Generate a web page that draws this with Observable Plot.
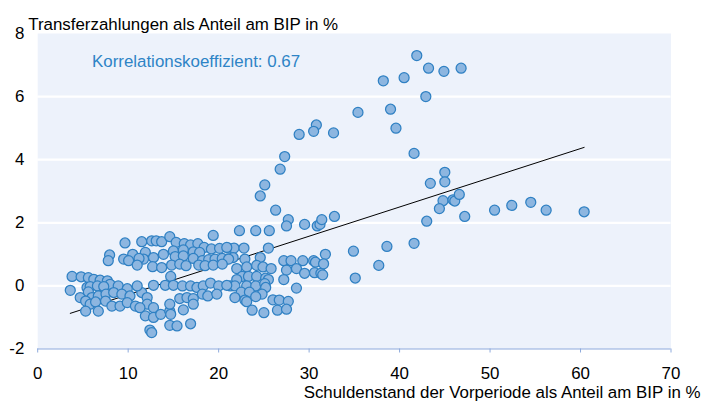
<!DOCTYPE html>
<html>
<head>
<meta charset="utf-8">
<script src="https://cdn.jsdelivr.net/npm/d3@7"></script>
<script src="https://cdn.jsdelivr.net/npm/@observablehq/plot@0.6"></script>
<style>
  html, body { margin: 0; padding: 0; background: #ffffff; }
  #chart { width: 702px; height: 408px; overflow: hidden; }
</style>
</head>
<body>
<div id="chart"></div>
<script>
// Debt in the previous period (% of GDP)
const debt = [
  41.9, 43.2, 44.9, 46.8, 40.5, 38.2, 42.9, 35.4, 39.0, 39.6, 41.6, 45.0, 43.4, 45.0, 44.8, 45.9, 46.1, 46.6, 44.4, 43.0,
  47.2, 50.5, 52.4, 54.5, 56.2, 60.4, 34.9, 38.6, 41.6, 37.7, 35.1,
  30.8, 28.9, 30.5, 32.7, 27.3, 26.8, 25.1, 24.6, 26.3, 27.7, 27.5, 29.5, 30.9, 31.2, 31.4, 32.8, 22.3, 24.1, 25.6,
  25.5, 21.1, 21.7, 22.8, 20.9, 21.6, 22.9, 24.6, 27.2, 28.0, 29.3, 30.5, 30.7, 31.8, 31.6,
  22.0, 23.1, 24.2, 24.9, 25.8, 27.5, 28.6, 29.5, 30.6, 31.3, 31.5, 22.6, 23.3, 24.2, 25.2, 25.5, 27.2, 22.0,
  21.3, 21.8, 23.1, 24.1, 25.1, 25.2, 28.6, 22.5, 23.4, 24.8, 21.8, 22.9, 24.1, 23.1, 26.0, 26.7, 27.7,
  23.7, 25.0, 26.5, 27.5,
  19.4, 11.5, 12.6, 13.1, 13.7, 14.6, 15.3, 16.2, 16.9, 17.7, 18.4, 19.2, 20.1, 20.9,
  11.9, 12.8, 13.9, 15.0, 15.2, 16.1, 16.1, 17.2, 17.9, 17.2, 18.2, 18.9, 19.6, 20.4, 21.1,
  11.7, 12.7, 13.7, 14.8, 15.7, 16.4, 17.8, 18.5, 19.4, 20.4, 14.7,
  12.8, 14.1, 15.0, 16.0, 16.9, 17.6, 18.3, 19.1, 20.0, 20.9, 18.2, 18.8, 19.8,
  11.5, 12.1, 12.1, 12.8, 11.9, 12.8, 13.6, 14.6, 15.7, 16.5, 17.2, 17.2, 14.6, 14.7, 16.1,
  14.6, 15.4, 16.9, 12.4, 12.6,
  9.65, 7.95, 7.8, 9.5, 10.5, 11.2, 10.05, 11.0,
  3.8, 4.8, 5.6, 6.2, 6.9, 7.7, 8.0, 3.6, 5.45, 5.8, 6.6, 7.3, 8.9, 9.9, 11.0,
  4.7, 5.6, 6.0, 6.7, 7.55, 8.4, 9.3, 10.2, 5.3, 5.8, 6.4, 7.5, 8.2, 9.1, 9.9, 10.8, 11.3,
  5.3, 6.7
];
// Transfer payments (% of GDP)
const transfers = [
  7.3, 6.9, 6.8, 6.9, 6.6, 6.5, 6.0, 5.5, 5.6, 5.0, 4.2, 3.6, 3.25, 3.3, 2.7, 2.73, 2.69, 2.9, 2.45, 2.05,
  2.2, 2.4, 2.55, 2.65, 2.4, 2.35, 1.1, 1.25, 1.35, 0.65, 0.25,
  5.1, 4.8, 4.9, 4.85, 4.1, 3.7, 3.2, 2.85, 2.4, 2.1, 1.9, 1.95, 1.9, 1.95, 2.1, 2.2, 1.75, 1.75, 1.75,
  1.2, 1.2, 1.2, 1.2, 0.85, 0.9, 0.85, 0.9, 0.8, 0.8, 0.8, 0.8, 0.75, 1.0, 0.7,
  0.55, 0.6, 0.65, 0.6, 0.55, 0.5, 0.55, 0.4, 0.42, 0.4, 0.35, 0.3, 0.3, 0.3, 0.25, 0.2, 0.2, 0.2,
  0.0, 0.0, 0.0, 0.0, 0.07, -0.05, -0.07, -0.2, -0.2, -0.26, -0.37, -0.45, -0.34, -0.5, -0.44, -0.45, -0.49,
  -0.77, -0.85, -0.77, -0.74,
  1.6, 1.4, 1.43, 1.43, 1.4, 1.56, 1.38, 1.34, 1.3, 1.34, 1.22, 1.17, 1.19, 1.22,
  1.06, 0.9, 1.0, 1.11, 0.93, 1.14, 0.95, 1.08, 1.06, 0.87, 0.8, 0.83, 0.85, 0.87, 0.85,
  0.85, 0.61, 0.58, 0.66, 0.69, 0.64, 0.66, 0.64, 0.66, 0.69, 0.3,
  0.02, 0.02, 0.02, 0.0, 0.0, -0.05, 0.0, 0.09, 0.0, 0.02, -0.26, -0.32, -0.26,
  -0.21, -0.37, -0.58, -0.69, -0.95, -1.0, -0.9, -0.8, -0.4, -0.37, -0.4, -0.58, -0.58, -0.9, -0.76,
  -1.25, -1.27, -1.2, -1.4, -1.48,
  1.36, 0.98, 0.8, 0.85, 1.0, 0.87, 0.8, 0.66,
  0.3, 0.29, 0.26, 0.21, 0.18, 0.16, 0.05, -0.14, -0.05, -0.02, 0.0, -0.02, 0.0, -0.09, 0.0,
  -0.37, -0.19, -0.37, -0.32, -0.26, -0.21, -0.26, -0.32, -0.48, -0.58, -0.51, -0.48, -0.64, -0.64, -0.53, -0.64, -0.69,
  -0.8, -0.8
];
// Linear fit drawn in the chart (end points)
const fitX = [3.6, 60.4];
const fitY = [-0.87, 4.39];

const xTicks = [0, 10, 20, 30, 40, 50, 60, 70];
const yTicks = [-2, 0, 2, 4, 6, 8];
const gridY = [0, 2, 4, 6];

const titleY = "Transferzahlungen als Anteil am BIP in %";
const titleX = "Schuldenstand der Vorperiode als Anteil am BIP in %";
const note = "Korrelationskoeffizient: 0.67";
const noteX = 6.0, noteY = 7.1;

const points = debt.map((d, i) => ({x: d, y: transfers[i]}));
const fit = fitX.map((d, i) => ({x: d, y: fitY[i]}));

const FS = 16.9;

const chart = Plot.plot({
  width: 702,
  height: 408,
  marginLeft: 37.2,
  marginRight: 31.5,
  marginTop: 33,
  marginBottom: 59.5,
  style: {fontFamily: "'Liberation Sans', Arial, sans-serif", fontSize: FS + "px", color: "#000", background: "#fff"},
  x: {domain: [0, 70]},
  y: {domain: [-2, 8]},
  marks: [
    Plot.frame({fill: "#edf2fb", stroke: null}),
    Plot.ruleY(gridY, {stroke: "#ffffff", strokeWidth: 2.2}),
    Plot.ruleY([-2], {stroke: "#8eaadc", strokeWidth: 1}),
    Plot.axisX({ticks: xTicks, tickSize: 4, tickPadding: 14, stroke: "#8eaadc", fill: "#000", label: null, fontSize: FS, tickFormat: d => String(d)}),
    Plot.axisY({ticks: yTicks, tickSize: 0, tickPadding: 13.3, label: null, fontSize: FS, tickFormat: d => d < 0 ? "-" + Math.abs(d) : String(d)}),
    Plot.line(fit, {x: "x", y: "y", stroke: "#000", strokeWidth: 1}),
    Plot.dot(points, {x: "x", y: "y", r: 5, fill: "#8db6e0", stroke: "#2f80c3", strokeWidth: 1.25}),
    Plot.text([note], {x: noteX, y: noteY, text: d => d, textAnchor: "start", fill: "#2e84c6", fontSize: FS}),
    Plot.text([titleY], {frameAnchor: "top-left", text: d => d, textAnchor: "start", dx: -9.5, dy: -15.5, fill: "#000", fontSize: FS}),
    Plot.text([titleX], {frameAnchor: "bottom-right", text: d => d, textAnchor: "end", dx: 29.5, dy: 48.5, fill: "#000", fontSize: FS})
  ]
});
document.getElementById("chart").appendChild(chart);
</script>
</body>
</html>
